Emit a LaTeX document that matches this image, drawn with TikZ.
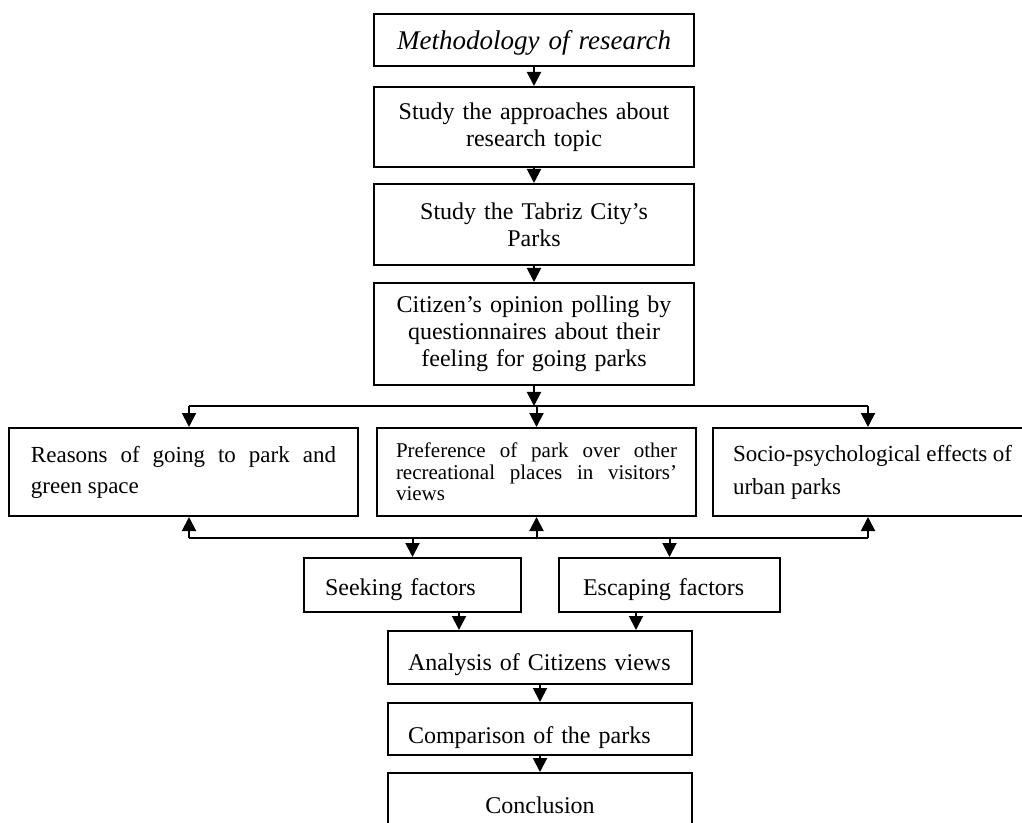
\documentclass[tikz,border=0pt]{standalone}
\usepackage{fontspec}
\setmainfont{Liberation Serif}
\usetikzlibrary{arrows.meta}
\hyphenpenalty=10000
\exhyphenpenalty=10000
\tikzset{
  box/.style={draw, line width=1pt, inner sep=0pt},
  arr/.style={line width=1pt, -{Triangle[width=7pt,length=7pt]}},
  mid/.style={box, align=center, text width=160pt, font=\fontsize{12}{13.5}\selectfont},
  side/.style={box, align=justify, minimum height=44pt},
  one/.style={box, align=left, font=\fontsize{12}{14}\selectfont},
}
\begin{document}
\begin{tikzpicture}[x=0.5pt, y=-0.5pt]
          \clip (0,0) rectangle (1022,823);
          % main column
          \node[mid, font=\itshape\fontsize{13.5}{16}\selectfont, text height=18pt, text depth=8pt] (meth) at (534,40) {Methodology of research};
          \node[mid, minimum height=40pt] (appr) at (534,127) {Study the approaches about\\research topic};
          \node[mid, minimum height=40.5pt] (tabriz) at (534,224.5) {Study the Tabriz City’s\\Parks};
          \node[mid, minimum height=51pt] (citizen) at (534,334) {Citizen’s opinion polling by\\questionnaires about their\\feeling for going parks};
          % three aspects
          \node[side, text width=152.5pt, inner xsep=11pt, font=\fontsize{11.5}{15.5}\selectfont] (reasons) at (183.5,472) {Reasons of going to park and green space};
          \node[side, text width=140.5pt, inner xsep=9.5pt, font=\fontsize{10.5}{10.8}\selectfont] (prefer) at (536.5,472) {Preference of park over other recreational places in visitors’ views};
          \node[side, text width=139.5pt, inner xsep=10pt, font=\fontsize{11.5}{16.5}\selectfont] (socio) at (872.5,472) {Socio-psychological effects of urban parks};
          % factors
          \node[one, text width=87.5pt, inner xsep=10.5pt, text height=18.5pt, text depth=8.5pt] (seeking) at (412.5,585) {Seeking factors};
          \node[one, text width=86.5pt, inner xsep=12pt, text height=18.5pt, text depth=8.5pt] (escaping) at (669.5,585) {Escaping factors};
          \node[one, text width=132pt, inner xsep=10pt, text height=19.5pt, text depth=7pt] (analysis) at (540,657.5) {Analysis of Citizens views};
          \node[one, text width=132pt, inner xsep=10pt, text height=20pt, text depth=6pt] (comparison) at (540,729) {Comparison of the parks};
          \node[one, align=center, text width=152pt, text height=20pt, text depth=16pt] (conclusion) at (540,809) {Conclusion};
          % bus lines
          \coordinate (tl) at (189,406);
          \coordinate (tr) at (868,406);
          \coordinate (bl) at (189,538);
          \coordinate (br) at (868,538);
          \draw[line width=1pt] (tl) -- (tr) (bl) -- (br);
          \draw[arr] (meth) -- (appr);
          \draw[arr] (appr) -- (tabriz);
          \draw[arr] (tabriz) -- (citizen);
          \draw[arr] (citizen.south) -- (citizen.south |- tl);
          \draw[arr] (tl) -- (tl |- reasons.north);
          \draw[arr] (prefer.north |- tl) -- (prefer.north);
          \draw[arr] (tr) -- (tr |- socio.north);
          \draw[arr] (bl) -- (bl |- reasons.south);
          \draw[arr] (prefer.south |- bl) -- (prefer.south);
          \draw[arr] (br) -- (br |- socio.south);
          \draw[arr] (seeking.north |- bl) -- (seeking.north);
          \draw[arr] (escaping.north |- bl) -- (escaping.north);
          \draw[arr] ([xshift=23.25pt]seeking.south) -- ([xshift=23.25pt]seeking.south |- analysis.north);
          \draw[arr] ([xshift=-16.75pt]escaping.south) -- ([xshift=-16.75pt]escaping.south |- analysis.north);
          \draw[arr] (analysis) -- (comparison);
          \draw[arr] (comparison) -- (conclusion);
\end{tikzpicture}
\end{document}
